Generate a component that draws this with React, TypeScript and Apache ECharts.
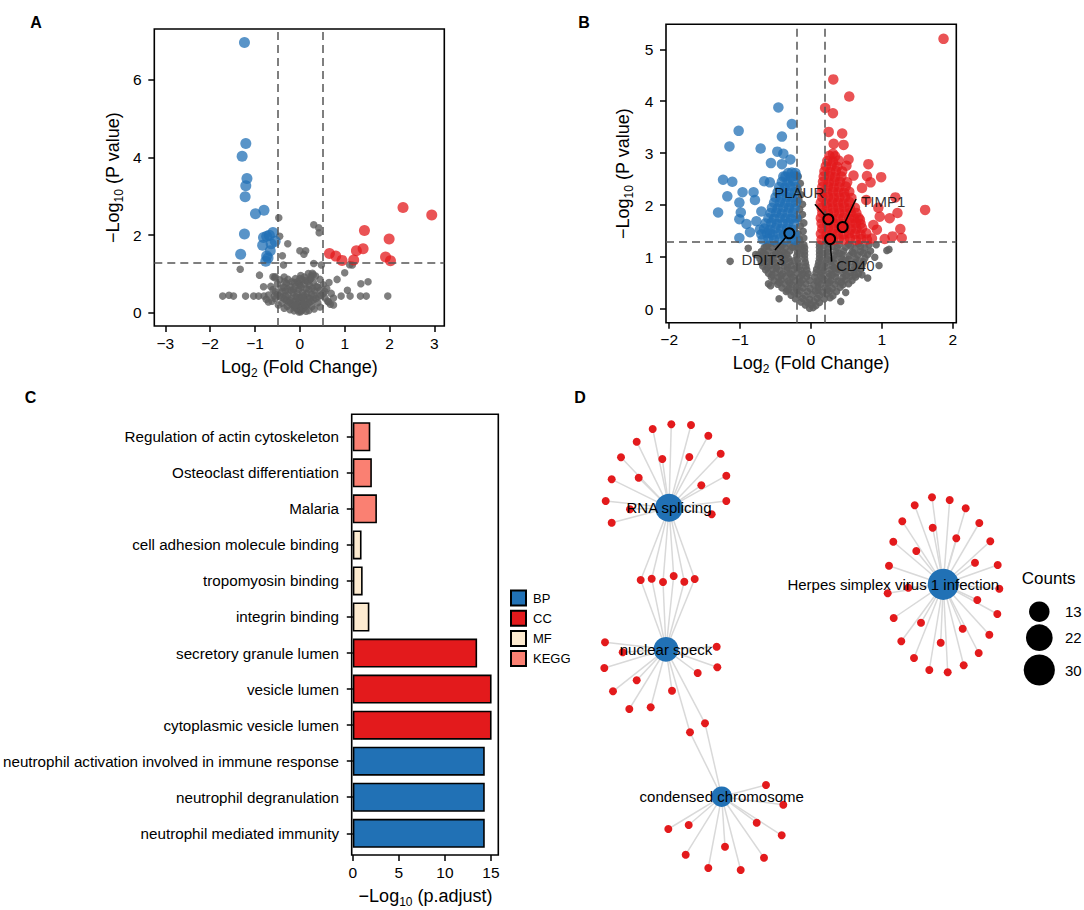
import React, { useEffect, useRef } from "react";
import * as echarts from "echarts";

const FONT = "'Liberation Sans', Arial, Helvetica, sans-serif";

// ---------------- Panel A: volcano ----------------
const aUp: number[][] = [
  [2.3, 2.71], [2.94, 2.52], [1.44, 2.12], [1.99, 1.9], [1.41, 1.65], [1.26, 1.6],
  [0.66, 1.53], [0.8, 1.46], [0.94, 1.35], [1.2, 1.36], [1.91, 1.44], [2.02, 1.34],
];
const aDown: number[][] = [
  [-1.235, 6.96], [-1.205, 4.36], [-1.287, 4.03], [-1.18, 3.46], [-1.205, 3.27], [-1.22, 2.99],
  [-0.99, 2.55], [-0.8, 2.64], [-1.235, 2.03], [-0.6, 2.07], [-0.74, 1.97], [-0.81, 1.94],
  [-0.55, 1.84], [-0.83, 1.74], [-0.66, 1.6], [-1.32, 1.51], [-0.74, 1.46], [-0.71, 1.41],
  [-0.76, 1.33], [-0.64, 1.78], [-0.68, 2.0],
];
const aNs: number[][] = [
  [-0.47, 2.45], [0.31, 2.27], [0.42, 2.19], [0.43, 2.06], [-0.45, 1.97], [-0.27, 1.78],
  [0.0, 1.6], [0.13, 1.6], [-0.39, 1.47], [0.09, 1.51], [-0.365, 1.23], [-1.33, 1.12],
  [-0.9, 0.97], [-0.6, 0.93], [-0.56, 0.9], [0.31, 1.27], [0.48, 1.23], [1.17, 1.23], [1.11, 1.24],
  [0.83, 0.86], [1.0, 1.03], [1.36, 0.75], [1.52, 0.8], [-0.81, 0.67], [1.06, 0.58],
  [-1.72, 0.43], [-1.58, 0.45], [-1.48, 0.43], [-1.21, 0.43], [-1.03, 0.43], [-0.92, 0.43],
  [-0.8, 0.43], [-0.57, 0.43], [0.92, 0.43], [1.12, 0.43], [1.35, 0.43], [1.48, 0.43], [1.96, 0.43],
  [0.75, 0.2], [0.64, 0.28], [-0.7, 0.28], [-0.02, 0.02], [0.02, 0.03], [0.0, 0.06], [-0.05, 0.08],
  [0.05, 0.07], [-0.08, 0.12], [0.08, 0.11], [-0.12, 0.15], [0.12, 0.16], [-0.03, 0.14], [0.03, 0.18],
  [-0.16, 0.2], [0.16, 0.21], [-0.2, 0.24], [0.2, 0.25], [-0.07, 0.22], [0.07, 0.26], [-0.25, 0.28],
  [0.25, 0.3], [-0.3, 0.32], [0.3, 0.33], [-0.11, 0.3], [0.11, 0.34], [-0.35, 0.36], [0.36, 0.37],
  [-0.18, 0.38], [0.18, 0.4], [-0.4, 0.4], [0.42, 0.42], [0.0, 0.4], [-0.45, 0.44], [0.47, 0.45],
  [-0.26, 0.46], [0.26, 0.47], [-0.5, 0.48], [0.52, 0.5], [-0.06, 0.5], [0.06, 0.52], [-0.55, 0.54],
  [0.56, 0.55], [-0.32, 0.56], [0.33, 0.57], [-0.14, 0.6], [0.14, 0.62], [-0.6, 0.6], [0.6, 0.62],
  [-0.42, 0.64], [0.4, 0.66], [-0.22, 0.68], [0.22, 0.7], [0.0, 0.7], [-0.5, 0.74], [0.52, 0.72],
  [-0.3, 0.76], [0.3, 0.78], [-0.05, 0.8], [0.05, 0.85], [0.22, 0.85], [0.25, 0.95], [0.28, 1.02],
  [-0.1, 0.88], [0.1, 0.92], [-0.45, 0.85], [0.45, 0.86], [-0.35, 0.92], [0.35, 0.95], [-0.55, 0.93],
  [0.65, 0.78], [-0.65, 0.68], [0.7, 0.5], [-0.7, 0.46], [0.75, 0.38], [-0.75, 0.35], [0.62, 0.3],
  [-0.62, 0.3], [0.68, 0.22], [-0.48, 0.2], [0.45, 0.15], [-0.35, 0.12], [0.32, 0.1], [-0.22, 0.08],
  [0.2, 0.06], [0.19, 1.01], [0.3, 0.98], [0.02, 0.96], [-0.02, 0.75],
  [-0.04, 0.3], [0.04, 0.32], [-0.09, 0.42], [0.09, 0.45], [-0.15, 0.52], [0.16, 0.5], [-0.2, 0.58],
  [0.2, 0.6], [-0.28, 0.62], [0.28, 0.63], [-0.36, 0.66], [0.37, 0.68], [-0.1, 0.68], [0.1, 0.74],
  [-0.18, 0.8], [0.17, 0.8], [-0.26, 0.86], [0.24, 0.88], [-0.02, 0.6], [0.03, 0.66], [-0.13, 0.05],
  [0.14, 0.04], [-0.28, 0.17], [0.27, 0.16], [-0.4, 0.25], [0.4, 0.26], [-0.55, 0.36], [0.56, 0.38],
  [-0.22, 0.32], [0.22, 0.36], [-0.32, 0.44], [0.32, 0.46], [-0.4, 0.54], [0.45, 0.58], [-0.1, 0.2],
  [0.1, 0.22], [-0.06, 0.38], [0.06, 0.4], [-0.12, 0.78], [0.12, 0.84], [0.0, 0.88], [-0.34, 0.8],
];
const aFcCut = [-0.5, 0.5];
const aPCut = 1.3;
const aXTicks = [-3, -2, -1, 0, 1, 2, 3];
const aYTicks = [0, 2, 4, 6];

// ---------------- Panel B: volcano ----------------
const bUp: number[][] = [
  [1.87, 5.2], [0.315, 4.42], [0.54, 4.09], [0.2, 3.87], [0.31, 3.77], [0.25, 3.41], [0.44, 3.38],
  [0.32, 3.18], [0.46, 3.16], [0.31, 2.99], [0.53, 2.88], [0.81, 2.79], [0.5, 2.76], [0.99, 2.54],
  [0.79, 2.56], [0.6, 2.57], [0.84, 2.44], [0.72, 2.33], [1.19, 2.15], [1.61, 1.91], [1.22, 1.85],
  [1.11, 1.75], [0.97, 1.78], [1.26, 1.54], [1.15, 1.4], [1.28, 1.37], [1.04, 1.35], [0.93, 1.53],
  [0.69, 1.72], [0.88, 1.62], [0.95, 1.95], [0.78, 2.1],
  // dense region
  [0.15, 1.34], [0.23, 1.36], [0.31, 1.33], [0.39, 1.35], [0.47, 1.34], [0.55, 1.36], [0.63, 1.33], [0.71, 1.35], [0.79, 1.34], [0.86, 1.36],
  [0.14, 1.45], [0.22, 1.44], [0.3, 1.46], [0.38, 1.45], [0.46, 1.44], [0.54, 1.46], [0.62, 1.45], [0.7, 1.44], [0.78, 1.46],
  [0.16, 1.55], [0.24, 1.56], [0.32, 1.54], [0.4, 1.55], [0.48, 1.56], [0.56, 1.54], [0.64, 1.55], [0.72, 1.56],
  [0.15, 1.65], [0.23, 1.64], [0.31, 1.66], [0.39, 1.65], [0.47, 1.64], [0.55, 1.66], [0.63, 1.65], [0.7, 1.64],
  [0.14, 1.75], [0.22, 1.76], [0.3, 1.74], [0.38, 1.75], [0.46, 1.76], [0.54, 1.74], [0.61, 1.75], [0.67, 1.76],
  [0.16, 1.85], [0.24, 1.84], [0.32, 1.86], [0.4, 1.85], [0.48, 1.84], [0.56, 1.86], [0.64, 1.85],
  [0.15, 1.95], [0.23, 1.96], [0.31, 1.94], [0.39, 1.95], [0.47, 1.96], [0.55, 1.94], [0.62, 1.95],
  [0.14, 2.05], [0.22, 2.04], [0.3, 2.06], [0.38, 2.05], [0.46, 2.04], [0.54, 2.06],
  [0.16, 2.15], [0.24, 2.16], [0.32, 2.14], [0.4, 2.15], [0.48, 2.16], [0.57, 2.14],
  [0.15, 2.25], [0.23, 2.24], [0.31, 2.26], [0.39, 2.25], [0.47, 2.24], [0.54, 2.26],
  [0.16, 2.35], [0.24, 2.36], [0.32, 2.34], [0.4, 2.35], [0.49, 2.36],
  [0.17, 2.45], [0.25, 2.44], [0.33, 2.46], [0.41, 2.45], [0.51, 2.44],
  [0.18, 2.55], [0.26, 2.56], [0.34, 2.54], [0.43, 2.55],
  [0.19, 2.65], [0.27, 2.64], [0.35, 2.66], [0.44, 2.65],
  [0.21, 2.75], [0.29, 2.76], [0.37, 2.74],
  [0.23, 2.85], [0.31, 2.84], [0.39, 2.86],
  [0.26, 2.95], [0.34, 2.94],
];
const bDown: number[][] = [
  [-0.46, 3.88], [-0.27, 3.56], [-1.02, 3.43], [-0.41, 3.32], [-1.15, 3.13], [-0.71, 3.09],
  [-0.475, 3.03], [-0.39, 2.99], [-0.29, 2.88], [-0.565, 2.81], [-0.41, 2.79], [-1.24, 2.49],
  [-1.11, 2.45], [-0.66, 2.46], [-0.58, 2.44], [-0.39, 2.55], [-0.32, 2.62], [-0.965, 2.25],
  [-0.81, 2.25], [-1.18, 2.17], [-1.01, 2.05], [-0.79, 2.1], [-1.31, 1.86], [-0.99, 1.86],
  [-1.01, 1.73], [-0.7, 1.88], [-0.77, 1.69], [-0.91, 1.64], [-0.72, 1.53], [-1.01, 1.37],
  [-0.58, 1.46], [-0.86, 1.48],
  // dense region
  [-0.68, 1.34], [-0.6, 1.36], [-0.52, 1.33], [-0.44, 1.35], [-0.36, 1.34], [-0.28, 1.36], [-0.22, 1.33],
  [-0.7, 1.44], [-0.62, 1.46], [-0.54, 1.43], [-0.46, 1.45], [-0.38, 1.44], [-0.3, 1.46], [-0.23, 1.44],
  [-0.66, 1.55], [-0.58, 1.53], [-0.5, 1.56], [-0.42, 1.54], [-0.34, 1.55], [-0.26, 1.53],
  [-0.64, 1.65], [-0.56, 1.66], [-0.48, 1.64], [-0.4, 1.65], [-0.32, 1.66], [-0.24, 1.64],
  [-0.6, 1.75], [-0.52, 1.74], [-0.44, 1.76], [-0.36, 1.75], [-0.28, 1.74], [-0.21, 1.76],
  [-0.57, 1.85], [-0.49, 1.86], [-0.41, 1.84], [-0.33, 1.85], [-0.25, 1.86],
  [-0.55, 1.95], [-0.47, 1.94], [-0.39, 1.96], [-0.31, 1.95], [-0.23, 1.94],
  [-0.52, 2.05], [-0.44, 2.06], [-0.36, 2.04], [-0.28, 2.05], [-0.21, 2.06],
  [-0.5, 2.15], [-0.42, 2.14], [-0.34, 2.16], [-0.26, 2.15],
  [-0.47, 2.25], [-0.39, 2.26], [-0.31, 2.24], [-0.23, 2.25],
  [-0.45, 2.35], [-0.37, 2.34], [-0.29, 2.36], [-0.22, 2.35],
  [-0.41, 2.45], [-0.33, 2.44], [-0.25, 2.46],
  [-0.36, 2.55], [-0.28, 2.54], [-0.21, 2.56],
  [-0.27, 2.63], [-0.22, 2.62],
];
const bNs: number[][] = [
  [-0.02, 0.02], [0.03, 0.03], [-0.08, 0.08], [0.0, 0.09], [0.07, 0.07],
  [-0.14, 0.14], [-0.05, 0.13], [0.04, 0.15], [0.12, 0.13],
  [-0.22, 0.2], [-0.12, 0.21], [-0.02, 0.19], [0.09, 0.21], [0.19, 0.2], [0.27, 0.22],
  [-0.28, 0.27], [-0.18, 0.28], [-0.08, 0.26], [0.02, 0.28], [0.12, 0.27], [0.22, 0.29], [0.31, 0.26],
  [-0.35, 0.34], [-0.25, 0.33], [-0.15, 0.35], [-0.05, 0.34], [0.06, 0.35], [0.16, 0.33], [0.26, 0.35], [0.36, 0.34],
  [-0.41, 0.41], [-0.31, 0.4], [-0.21, 0.42], [-0.11, 0.41], [-0.01, 0.4], [0.1, 0.42], [0.2, 0.41], [0.3, 0.4], [0.41, 0.42],
  [-0.47, 0.48], [-0.37, 0.49], [-0.27, 0.47], [-0.17, 0.48], [-0.07, 0.49], [0.04, 0.47], [0.14, 0.48], [0.24, 0.5], [0.34, 0.48], [0.45, 0.47], [0.53, 0.49],
  [-0.52, 0.55], [-0.42, 0.56], [-0.32, 0.54], [-0.22, 0.55], [-0.12, 0.56], [-0.02, 0.55], [0.08, 0.54], [0.18, 0.56], [0.28, 0.55], [0.38, 0.54], [0.48, 0.56], [0.58, 0.55],
  [-0.56, 0.62], [-0.46, 0.61], [-0.36, 0.63], [-0.26, 0.62], [-0.16, 0.61], [-0.06, 0.63], [0.05, 0.62], [0.15, 0.61], [0.25, 0.63], [0.35, 0.62], [0.45, 0.61], [0.55, 0.63], [0.63, 0.62],
  [-0.6, 0.69], [-0.5, 0.7], [-0.4, 0.68], [-0.3, 0.69], [-0.2, 0.7], [-0.11, 0.69], [-0.04, 0.68], [0.07, 0.7], [0.16, 0.69], [0.26, 0.68], [0.36, 0.7], [0.46, 0.69], [0.56, 0.7], [0.67, 0.68],
  [-0.64, 0.76], [-0.54, 0.77], [-0.44, 0.75], [-0.34, 0.76], [-0.24, 0.77], [-0.14, 0.75], [-0.06, 0.76], [0.08, 0.77], [0.18, 0.75], [0.28, 0.76], [0.38, 0.77], [0.48, 0.75], [0.6, 0.76], [0.7, 0.77],
  [-0.68, 0.83], [-0.58, 0.84], [-0.48, 0.82], [-0.38, 0.83], [-0.28, 0.84], [-0.16, 0.82], [-0.07, 0.83], [0.1, 0.84], [0.2, 0.82], [0.3, 0.83], [0.41, 0.84], [0.51, 0.82], [0.61, 0.83], [0.72, 0.84],
  [-0.7, 0.9], [-0.6, 0.91], [-0.5, 0.89], [-0.4, 0.9], [-0.3, 0.91], [-0.18, 0.89], [-0.08, 0.9], [0.11, 0.91], [0.21, 0.89], [0.32, 0.9], [0.42, 0.91], [0.52, 0.89], [0.62, 0.9], [0.74, 0.91],
  [-0.72, 0.97], [-0.62, 0.98], [-0.52, 0.96], [-0.42, 0.97], [-0.32, 0.98], [-0.19, 0.96], [-0.09, 0.97], [0.12, 0.98], [0.23, 0.96], [0.33, 0.97], [0.43, 0.98], [0.53, 0.96], [0.63, 0.97], [0.76, 0.98],
  [-0.74, 1.04], [-0.64, 1.05], [-0.54, 1.03], [-0.44, 1.04], [-0.34, 1.05], [-0.2, 1.03], [-0.09, 1.04], [0.12, 1.05], [0.23, 1.03], [0.34, 1.04], [0.44, 1.05], [0.54, 1.03], [0.66, 1.04], [0.8, 1.05],
  [-0.7, 1.11], [-0.6, 1.12], [-0.5, 1.1], [-0.4, 1.11], [-0.3, 1.12], [-0.19, 1.1], [-0.09, 1.11], [0.12, 1.12], [0.23, 1.1], [0.35, 1.11], [0.46, 1.12], [0.58, 1.1], [0.7, 1.11], [0.84, 1.12],
  [-0.66, 1.18], [-0.56, 1.19], [-0.46, 1.17], [-0.36, 1.18], [-0.26, 1.19], [-0.18, 1.17], [-0.09, 1.18], [0.12, 1.19], [0.24, 1.17], [0.37, 1.18], [0.49, 1.19], [0.62, 1.17], [0.76, 1.18],
  [-0.6, 1.25], [-0.5, 1.26], [-0.4, 1.24], [-0.3, 1.25], [-0.2, 1.26], [-0.1, 1.24], [0.12, 1.25], [0.25, 1.26], [0.4, 1.24], [0.53, 1.25], [0.67, 1.26], [0.82, 1.24],
  // offset rows filling the mass
  [-0.33, 0.37], [-0.2, 0.37], [0.1, 0.37], [0.23, 0.38], [-0.45, 0.52], [-0.3, 0.51], [-0.15, 0.52], [0.1, 0.51], [0.26, 0.52], [0.43, 0.52],
  [-0.55, 0.66], [-0.42, 0.65], [-0.28, 0.66], [-0.13, 0.66], [0.13, 0.65], [0.3, 0.66], [0.5, 0.65], [0.62, 0.66],
  [-0.62, 0.8], [-0.49, 0.79], [-0.33, 0.8], [-0.2, 0.8], [0.14, 0.8], [0.33, 0.79], [0.46, 0.8], [0.65, 0.8],
  [-0.66, 0.94], [-0.55, 0.93], [-0.37, 0.94], [-0.24, 0.93], [0.16, 0.94], [0.28, 0.93], [0.48, 0.94], [0.68, 0.93],
  [-0.68, 1.08], [-0.49, 1.07], [-0.38, 1.08], [-0.15, 1.07], [0.17, 1.08], [0.4, 1.07], [0.6, 1.08], [0.74, 1.08],
  [-0.63, 1.21], [-0.43, 1.22], [-0.23, 1.21], [-0.14, 1.21], [0.18, 1.22], [0.31, 1.21], [0.56, 1.22], [0.7, 1.21],
  // gray horn between the cut-offs
  [-0.16, 1.34], [-0.1, 1.37], [-0.18, 1.45], [-0.11, 1.5], [-0.15, 1.6], [-0.1, 1.66], [-0.17, 1.74],
  [-0.12, 1.82], [-0.16, 1.92], [-0.12, 2.02], [-0.17, 2.1], [-0.14, 2.2], [-0.18, 2.3], [-0.15, 2.42], [-0.18, 2.55],
  // outliers
  [-1.14, 0.92], [-0.885, 1.17], [-0.6, 0.49], [-0.57, 0.45], [0.96, 0.84], [0.72, 0.66], [0.92, 1.24],
  [1.07, 1.13], [1.1, 1.15], [0.49, 0.32], [0.8, 0.6], [-0.78, 1.05], [0.9, 1.0], [-0.45, 0.2], [0.42, 0.15],
];
const bHighlight = [
  { name: "PLAUR", value: [0.245, 1.73], dir: "up", text: [-0.165, 2.24], from: [0.056, 2.02] },
  { name: "TIMP1", value: [0.447, 1.58], dir: "up", text: [1.02, 2.08], from: [0.636, 2.12] },
  { name: "CD40", value: [0.27, 1.35], dir: "up", text: [0.626, 0.84], from: [0.292, 0.915] },
  { name: "DDIT3", value: [-0.306, 1.46], dir: "down", text: [-0.674, 0.95], from: [-0.508, 1.14] },
];
const bFcCut = [-0.2, 0.2];
const bPCut = 1.3;
const bXTicks = [-2, -1, 0, 1, 2];
const bYTicks = [0, 1, 2, 3, 4, 5];

// ---------------- Panel C: enrichment bars ----------------
const cTerms = [
  "Regulation of actin cytoskeleton",
  "Osteoclast differentiation",
  "Malaria",
  "cell adhesion molecule binding",
  "tropomyosin binding",
  "integrin binding",
  "secretory granule lumen",
  "vesicle lumen",
  "cytoplasmic vesicle lumen",
  "neutrophil activation involved in immune response",
  "neutrophil degranulation",
  "neutrophil mediated immunity",
];
const cValues = [1.9, 2.07, 2.62, 0.95, 1.07, 1.8, 13.5, 15.07, 15.07, 14.33, 14.33, 14.33];
const cGroups = ["KEGG", "KEGG", "KEGG", "MF", "MF", "MF", "CC", "CC", "CC", "BP", "BP", "BP"];
const cGroupNames = ["BP", "CC", "MF", "KEGG"];
const cGroupColors = ["#2171b5", "#e31a1c", "#fdebd0", "#fa8072"];
const cXTicks = [0, 5, 10, 15];

// ---------------- Panel D: concept network ----------------
const dHubs = [
  { name: "RNA splicing", pos: [669, 507.7] },
  { name: "nuclear speck", pos: [666, 649.3] },
  { name: "condensed chromosome", pos: [721.7, 796.7] },
  { name: "Herpes simplex virus 1 infection", pos: [943.3, 584.3] },
];
const dRnaGenes = [
  [671.3, 424.3], [691, 425], [652.7, 429], [708.3, 435.7], [636.7, 441.7], [621, 457.3], [662.3, 459],
  [689.3, 457], [720.7, 453.7], [611.7, 479.3], [638.7, 477.7], [701.3, 485.3], [726.3, 475.7],
  [605.7, 501], [726.3, 501], [611.7, 522.7], [711.7, 514.3], [630, 509.3],
];
const dRnaSpeckGenes = [[640.7, 580], [651.7, 578.7], [663, 582], [673.7, 576], [684.3, 581.7], [694.7, 579]];
const dSpeckGenes = [
  [605, 642.3], [622.7, 652.3], [716.7, 646.7], [604.3, 668], [717.3, 667.3], [697.7, 673],
  [636.7, 680.3], [613, 691.3], [672, 690.7], [629.3, 709], [650.7, 707.3],
];
const dSpeckChromGenes = [[690, 732.3], [705, 723.3]];
const dChromGenes = [
  [766, 785], [783.3, 804.7], [756.7, 822.7], [781.7, 835.3], [668.3, 829], [688.7, 825],
  [725, 846.7], [685.7, 854.7], [764, 857.7], [708.3, 868], [740.7, 870],
];
const dHerpesGenes = [
  [932, 497.3], [949.7, 500], [914.7, 505.3], [965.7, 508.3], [902.3, 521.3], [979.3, 523], [932.7, 527.7],
  [956.3, 538.3], [893.3, 541.7], [990.3, 541.3], [916.3, 551], [975, 562.7], [889, 565.7], [997.7, 565],
  [908.3, 587.7], [887.7, 593.3], [999.3, 588.7], [977.3, 600], [997.3, 614], [893.7, 618], [921, 622.7],
  [962.7, 628.7], [989.3, 634.7], [901.3, 641.3], [940.7, 642.7], [978.7, 653], [914, 658], [963.7, 665.3],
  [929.3, 670], [947.7, 672.3],
];
const dCountKeys = [13, 22, 30];

// ---------------- helpers ----------------
const fmtTick = (v: number) => (v < 0 ? "\u2212" + Math.abs(v) : String(v));
const richName = {
  a: { fontSize: 18, lineHeight: 24, fontFamily: FONT, color: "#000" },
  s: { fontSize: 12, lineHeight: 24, verticalAlign: "bottom", fontFamily: FONT, color: "#000" },
};
const tickStyle = { color: "#000", width: 1.5 };
const dashStyle = { color: "#555", width: 1.5, type: [8, 5] };
const sizeOf = (count: number) => 5.69 * Math.sqrt(count);
const TICK_FONT = 15.5;

function valueAxis(grid: number, min: number, max: number, ticks: number[], margin: number, extra: any) {
  return {
    gridIndex: grid,
    type: "value",
    min,
    max,
    axisLine: { show: false, onZero: false },
    axisTick: { show: true, length: 6, lineStyle: tickStyle, customValues: ticks },
    axisLabel: { customValues: ticks, formatter: fmtTick, fontSize: TICK_FONT, color: "#000", fontFamily: FONT, margin },
    splitLine: { show: false },
    nameLocation: "middle",
    nameTextStyle: { rich: richName },
    ...extra,
  };
}

function buildOption(): any {
  const geneSets: { pts: number[][]; hubs: number[] }[] = [
    { pts: dRnaGenes, hubs: [0] },
    { pts: dRnaSpeckGenes, hubs: [0, 1] },
    { pts: dSpeckGenes, hubs: [1] },
    { pts: dSpeckChromGenes, hubs: [1, 2] },
    { pts: dChromGenes, hubs: [2] },
    { pts: dHerpesGenes, hubs: [3] },
  ];
  const hubCounts = dHubs.map(() => 0);
  const edges: any[] = [];
  const genePts: number[][] = [];
  geneSets.forEach((set) => {
    set.pts.forEach((p) => {
      genePts.push(p);
      set.hubs.forEach((h) => {
        hubCounts[h] += 1;
        edges.push({ coords: [p, dHubs[h].pos] });
      });
    });
  });
  const hubLabelDx = [0, 0, 0, -50];

  const keyX = 1039.3;
  const keyY = [611.7, 637.7, 670];

  const panelLabel = (t: string, x: number, y: number) => ({
    type: "text", x, y,
    style: { text: t, fontSize: 16, fontWeight: "bold", fontFamily: FONT, fill: "#000", align: "center", verticalAlign: "middle", textAlign: "center", textVerticalAlign: "middle" },
  });

  const graphic: any[] = [
    panelLabel("A", 36, 22.5),
    panelLabel("B", 584, 22),
    panelLabel("C", 30.5, 397),
    panelLabel("D", 580, 397),
    { type: "rect", shape: { x: 351.7, y: 414.3, width: 146.6, height: 440.7 }, style: { fill: "none", stroke: "#000", lineWidth: 1.6 }, z: 10 },
    { type: "text", x: 1021.7, y: 578.3, style: { text: "Counts", fontSize: 17, fontFamily: FONT, fill: "#000", align: "left", verticalAlign: "middle", textAlign: "left", textVerticalAlign: "middle" } },
  ];
  dCountKeys.forEach((c, i) => {
    graphic.push({ type: "circle", shape: { cx: keyX, cy: keyY[i], r: sizeOf(c) / 2 }, style: { fill: "#000" } });
    graphic.push({ type: "text", x: 1065, y: keyY[i], style: { text: String(c), fontSize: 15, fontFamily: FONT, fill: "#000", align: "left", verticalAlign: "middle", textAlign: "left", textVerticalAlign: "middle" } });
  });

  const cSeries = cGroupNames.map((g, gi) => ({
    name: g,
    type: "bar",
    xAxisIndex: 2,
    yAxisIndex: 2,
    barWidth: 29,
    barGap: "-100%",
    data: cValues.map((v, i) => (cGroups[i] === g ? v : "-")),
    itemStyle: { color: cGroupColors[gi], borderColor: "#000", borderWidth: 1.6 },
    silent: true,
  }));

  return {
    animation: false,
    backgroundColor: "#fff",
    textStyle: { fontFamily: FONT },
    grid: [
      { left: 154.3, top: 29, width: 290, height: 297, show: true, borderColor: "#000", borderWidth: 1.6, backgroundColor: "transparent" },
      { left: 666, top: 24.3, width: 290.3, height: 298.4, show: true, borderColor: "#000", borderWidth: 1.6, backgroundColor: "transparent" },
      { left: 352.3, top: 418.7, width: 146, height: 432.6 },
      { left: 580, top: 400, width: 504, height: 500 },
    ],
    xAxis: [
      valueAxis(0, -3.245, 3.22, aXTicks, 9.5, { name: "{a|Log}{s|2}{a| (Fold Change)}", nameGap: 28.7 }),
      valueAxis(1, -2.045, 2.05, bXTicks, 8.5, { name: "{a|Log}{s|2}{a| (Fold Change)}", nameGap: 28.6 }),
      valueAxis(2, 0, 15.8, cXTicks, 9, { offset: 3.7, name: "{a|\u2212Log}{s|10}{a| (p.adjust)}", nameGap: 28.7 }),
      { gridIndex: 3, type: "value", min: 580, max: 1084, show: false },
    ],
    yAxis: [
      valueAxis(0, -0.34, 7.31, aYTicks, 12.6, { name: "{a|\u2212Log}{s|10}{a| (P value)}", nameGap: 29 }),
      valueAxis(1, -0.26, 5.48, bYTicks, 12.7, { name: "{a|\u2212Log}{s|10}{a| (P value)}", nameGap: 30.7 }),
      {
        gridIndex: 2,
        type: "category",
        data: cTerms,
        inverse: true,
        axisLine: { show: false },
        axisTick: { show: true, length: 6, alignWithLabel: true, lineStyle: tickStyle },
        axisLabel: { fontSize: 15.2, color: "#000", fontFamily: FONT, margin: 13.8 },
        splitLine: { show: false },
      },
      { gridIndex: 3, type: "value", min: 400, max: 900, inverse: true, show: false },
    ],
    legend: {
      data: cGroupNames,
      orient: "vertical",
      left: 505,
      top: 584.5,
      itemWidth: 15,
      itemHeight: 15,
      itemGap: 3.2,
      icon: "rect",
      selectedMode: false,
      textStyle: { fontSize: 13, color: "#000", fontFamily: FONT, padding: [0, 0, 0, 2] },
    },
    graphic,
    series: [
      // ---- A ----
      {
        type: "scatter", xAxisIndex: 0, yAxisIndex: 0, data: aNs, symbolSize: 7.5, silent: true,
        itemStyle: { color: "#5f5f5f", opacity: 0.8 },
        markLine: {
          silent: true, symbol: ["none", "none"], label: { show: false }, lineStyle: dashStyle,
          data: [{ xAxis: aFcCut[0] }, { xAxis: aFcCut[1] }, { yAxis: aPCut }],
        },
      },
      { type: "scatter", xAxisIndex: 0, yAxisIndex: 0, data: aDown, symbolSize: 11, silent: true, itemStyle: { color: "#2270b5", opacity: 0.75 } },
      { type: "scatter", xAxisIndex: 0, yAxisIndex: 0, data: aUp, symbolSize: 11, silent: true, itemStyle: { color: "#e31a1c", opacity: 0.75 } },
      // ---- B ----
      {
        type: "scatter", xAxisIndex: 1, yAxisIndex: 1, data: bNs, symbolSize: 7.5, silent: true,
        itemStyle: { color: "#5f5f5f", opacity: 0.9 },
        markLine: {
          silent: true, symbol: ["none", "none"], label: { show: false }, lineStyle: dashStyle,
          data: [{ xAxis: bFcCut[0] }, { xAxis: bFcCut[1] }, { yAxis: bPCut }],
        },
      },
      { type: "scatter", xAxisIndex: 1, yAxisIndex: 1, data: bDown, symbolSize: 10.5, silent: true, itemStyle: { color: "#2270b5", opacity: 0.75 } },
      { type: "scatter", xAxisIndex: 1, yAxisIndex: 1, data: bUp, symbolSize: 10.5, silent: true, itemStyle: { color: "#e31a1c", opacity: 0.75 } },
      {
        type: "lines", coordinateSystem: "cartesian2d", xAxisIndex: 1, yAxisIndex: 1, silent: true, z: 5,
        lineStyle: { color: "#000", width: 1.6, opacity: 1 },
        data: bHighlight.map((h) => ({ coords: [h.from, h.value] })),
      },
      {
        type: "scatter", xAxisIndex: 1, yAxisIndex: 1, silent: true, z: 6, symbolSize: 10,
        data: bHighlight.map((h) => ({
          value: h.value,
          itemStyle: { color: h.dir === "up" ? "#e31a1c" : "#2270b5", borderColor: "#000", borderWidth: 2, opacity: 1 },
        })),
      },
      {
        type: "scatter", xAxisIndex: 1, yAxisIndex: 1, silent: true, z: 7, symbolSize: 1,
        itemStyle: { color: "transparent" },
        label: { show: true, position: "inside", formatter: (p: any) => p.name, fontSize: 15, color: "#000", fontFamily: FONT },
        data: bHighlight.map((h) => ({ name: h.name, value: h.text })),
      },
      // ---- C ----
      ...cSeries,
      // ---- D ----
      {
        type: "lines", coordinateSystem: "cartesian2d", xAxisIndex: 3, yAxisIndex: 3, silent: true,
        lineStyle: { color: "#d9d9d9", width: 1.5, opacity: 1 },
        data: edges,
      },
      {
        type: "scatter", xAxisIndex: 3, yAxisIndex: 3, silent: true, symbolSize: 8,
        itemStyle: { color: "#e31a1c", opacity: 1 },
        data: genePts,
      },
      {
        type: "scatter", xAxisIndex: 3, yAxisIndex: 3, silent: true,
        itemStyle: { color: "#2171b5", opacity: 1 },
        label: { show: true, position: "inside", formatter: (p: any) => p.name, fontSize: 15, color: "#000", fontFamily: FONT },
        data: dHubs.map((h, i) => ({
          name: h.name,
          value: h.pos,
          symbolSize: sizeOf(hubCounts[i]),
          label: { offset: [hubLabelDx[i], 0] },
        })),
      },
    ],
  };
}

export default function App() {
  const ref = useRef<HTMLDivElement>(null);
  useEffect(() => {
    if (!ref.current) return;
    const chart = echarts.init(ref.current, null, { renderer: "svg" });
    chart.setOption(buildOption());
    return () => chart.dispose();
  }, []);
  return (
    <div
      ref={ref}
      style={{ position: "absolute", left: 0, top: 0, width: 1084, height: 910, background: "#fff" }}
    />
  );
}
